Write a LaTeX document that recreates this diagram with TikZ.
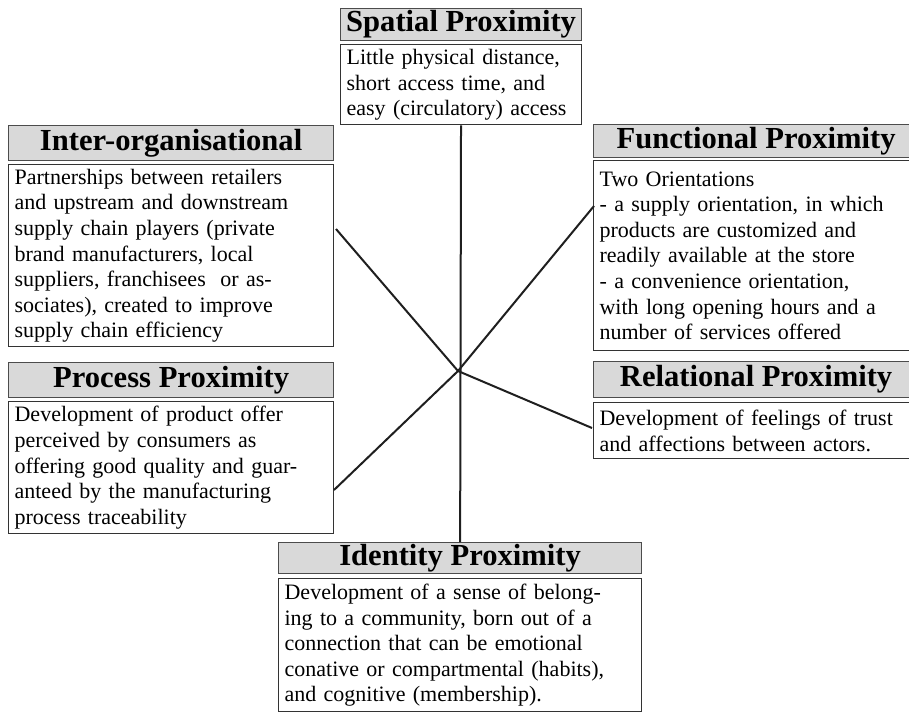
\documentclass[tikz,border=0pt]{standalone}
\usepackage{fontspec}
\setmainfont{Liberation Serif}
\usetikzlibrary{positioning}

\begin{document}
\begin{tikzpicture}[x=0.5pt,y=-0.5pt,semithick,
    head/.style={draw=black!70,fill=black!15,line width=0.6pt,inner sep=0pt,anchor=north west,
      font=\bfseries\fontsize{15.3}{16}\selectfont},
    desc/.style={draw=black!80,line width=0.6pt,inner xsep=3pt,inner ysep=1pt,align=left,
      text width=#1,font=\fontsize{11}{12.8}\selectfont},
    link/.style={line width=1pt,draw=black!88}]
			\useasboundingbox (0,0) rectangle (909,712);
			% headers
			\node[head,minimum width=120.5pt,minimum height=16pt]   (hS)  at (340,8)   {Spatial Proximity};
			\node[head,minimum width=162.5pt,minimum height=17.5pt] (hI)  at (8,125)   {Inter-organisational};
			\node[head,minimum width=162.5pt,minimum height=16.5pt] (hF)  at (593,124) {Functional Proximity};
			\node[head,minimum width=162.5pt,minimum height=17.5pt] (hP)  at (8,362)   {Process Proximity};
			\node[head,minimum width=162.5pt,minimum height=18pt]   (hR)  at (593,361) {Relational Proximity};
			\node[head,minimum width=181.5pt,minimum height=15.5pt] (hId) at (278,542) {Identity Proximity};
			% descriptions
			\node[desc=114.5pt,minimum height=40pt,below=1.5pt of hS] (dS)
				{Little physical distance,\\short access time, and\\easy (circulatory) access};
			\node[desc=156.5pt,minimum height=91pt,below=1.5pt of hI] (dI)
				{Partnerships between retailers\\and upstream and downstream\\supply chain players (private\\brand manufacturers, local\\suppliers, franchisees\ \ or as-\\sociates), created to improve\\supply chain efficiency};
			\node[desc=156.5pt,minimum height=95pt,below=1pt of hF] (dF)
				{Two Orientations\\- a supply orientation, in which\\products are customized and\\readily available at the store\\- a convenience orientation,\\with long opening hours and a\\number of services offered};
			\node[desc=156.5pt,minimum height=66pt,below=1.5pt of hP] (dP)
				{Development of product offer\\perceived by consumers as\\offering good quality and guar-\\anteed by the manufacturing\\process traceability};
			\node[desc=156.5pt,minimum height=28pt,below=2pt of hR] (dR)
				{Development of feelings of trust\\and affections between actors.};
			\node[desc=175.5pt,minimum height=66.5pt,below=2pt of hId] (dId)
				{Development of a sense of belong-\\ing to a community, born out of a\\connection that can be emotional\\conative or compartmental (habits),\\and cognitive (membership).};
			% connectors
			\coordinate (c)  at (458,371);
			\coordinate (eI) at (336,229);
			\coordinate (eF) at (594,206);
			\coordinate (eP) at (334,490);
			\coordinate (eR) at (592,428);
			\draw[link] (dS) -- (hId);
			\foreach \e in {eI,eF,eP,eR}
				\draw[link] (\e) -- (c);
		\end{tikzpicture}
\end{document}
